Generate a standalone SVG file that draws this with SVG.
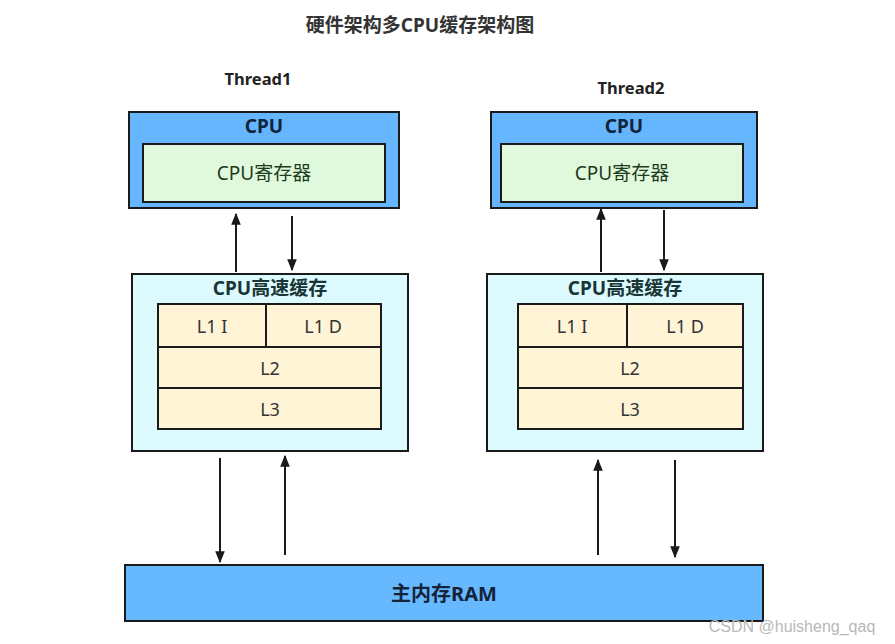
<svg xmlns="http://www.w3.org/2000/svg" width="895" height="644" viewBox="0 0 895 644">
<defs>
<marker id="ah" viewBox="0 0 10 10" refX="9" refY="5" markerWidth="6" markerHeight="6" orient="auto" markerUnits="strokeWidth">
<path d="M0,1 L10,5 L0,9 z" fill="#1a1a1a"/>
</marker>
<style>
.cpu{fill:#66b5ff;stroke:#1a1a1a;stroke-width:2}
.reg{fill:#e0f8dc;stroke:#1a1a1a;stroke-width:2}
.cache{fill:#ddfbff;stroke:#1a1a1a;stroke-width:2}
.lv{fill:#fff4d6;stroke:#1a1a1a;stroke-width:2}
.ram{fill:#66b8ff;stroke:#1a1a1a;stroke-width:2}
.t{font-family:"Noto Sans","Noto Sans CJK SC",sans-serif;text-anchor:middle}
.b{font-weight:bold}
.ln{stroke:#1a1a1a;stroke-width:2;fill:none;marker-end:url(#ah)}
</style>
</defs>
<rect width="895" height="644" fill="#ffffff"/>
<text class="t b" x="420" y="32" font-size="19" fill="#333">硬件架构多CPU缓存架构图</text>
<text class="t b" x="258" y="85" font-size="16.5" fill="#222">Thread1</text>
<text class="t b" x="631" y="94" font-size="16.5" fill="#222">Thread2</text>

<g id="cpu1">
<rect class="cpu" x="129" y="112" width="270" height="96"/>
<text class="t b" x="264" y="133" font-size="19" fill="#12243a">CPU</text>
<rect class="reg" x="143" y="144" width="242" height="58"/>
<text class="t" x="264" y="180" font-size="19" fill="#1d3b1d">CPU寄存器</text>
</g>
<g id="cpu2">
<rect class="cpu" x="491" y="112" width="266" height="96"/>
<text class="t b" x="624" y="133" font-size="19" fill="#12243a">CPU</text>
<rect class="reg" x="501" y="144" width="242" height="58"/>
<text class="t" x="622" y="180" font-size="19" fill="#1d3b1d">CPU寄存器</text>
</g>

<g id="cache1">
<rect class="cache" x="132" y="274" width="276" height="177"/>
<text class="t b" x="270" y="295" font-size="19" fill="#1a3535">CPU高速缓存</text>
<rect class="lv" x="158" y="304" width="108" height="43"/>
<rect class="lv" x="266" y="304" width="115" height="43"/>
<rect class="lv" x="158" y="347" width="223" height="41"/>
<rect class="lv" x="158" y="388" width="223" height="41"/>
<text class="t" x="212" y="333" font-size="18" fill="#333">L1 I</text>
<text class="t" x="323" y="333" font-size="18" fill="#333">L1 D</text>
<text class="t" x="270" y="375" font-size="18" fill="#333">L2</text>
<text class="t" x="270" y="416" font-size="18" fill="#333">L3</text>
</g>
<g id="cache2">
<rect class="cache" x="487" y="274" width="276" height="177"/>
<text class="t b" x="625" y="295" font-size="19" fill="#1a3535">CPU高速缓存</text>
<rect class="lv" x="518" y="304" width="109" height="43"/>
<rect class="lv" x="627" y="304" width="116" height="43"/>
<rect class="lv" x="518" y="347" width="225" height="41"/>
<rect class="lv" x="518" y="388" width="225" height="41"/>
<text class="t" x="572" y="333" font-size="18" fill="#333">L1 I</text>
<text class="t" x="685" y="333" font-size="18" fill="#333">L1 D</text>
<text class="t" x="630" y="375" font-size="18" fill="#333">L2</text>
<text class="t" x="630" y="416" font-size="18" fill="#333">L3</text>
</g>

<g id="ram">
<rect class="ram" x="125" y="565" width="638" height="56"/>
<text class="t b" x="444" y="601" font-size="20" fill="#14233a">主内存RAM</text>
</g>

<g id="connectors">
<line class="ln" x1="236" y1="272" x2="236" y2="214"/>
<line class="ln" x1="292" y1="216" x2="292" y2="270"/>
<line class="ln" x1="601" y1="272" x2="601" y2="209"/>
<line class="ln" x1="664" y1="210" x2="664" y2="270"/>
<line class="ln" x1="220" y1="458" x2="220" y2="562"/>
<line class="ln" x1="285" y1="555" x2="285" y2="456"/>
<line class="ln" x1="598" y1="555" x2="598" y2="460"/>
<line class="ln" x1="675" y1="460" x2="675" y2="557"/>
</g>

<text x="792" y="632" font-family="'Liberation Sans',sans-serif" font-size="16" fill="#b8b8b8" text-anchor="middle">CSDN @huisheng_qaq</text>
</svg>
